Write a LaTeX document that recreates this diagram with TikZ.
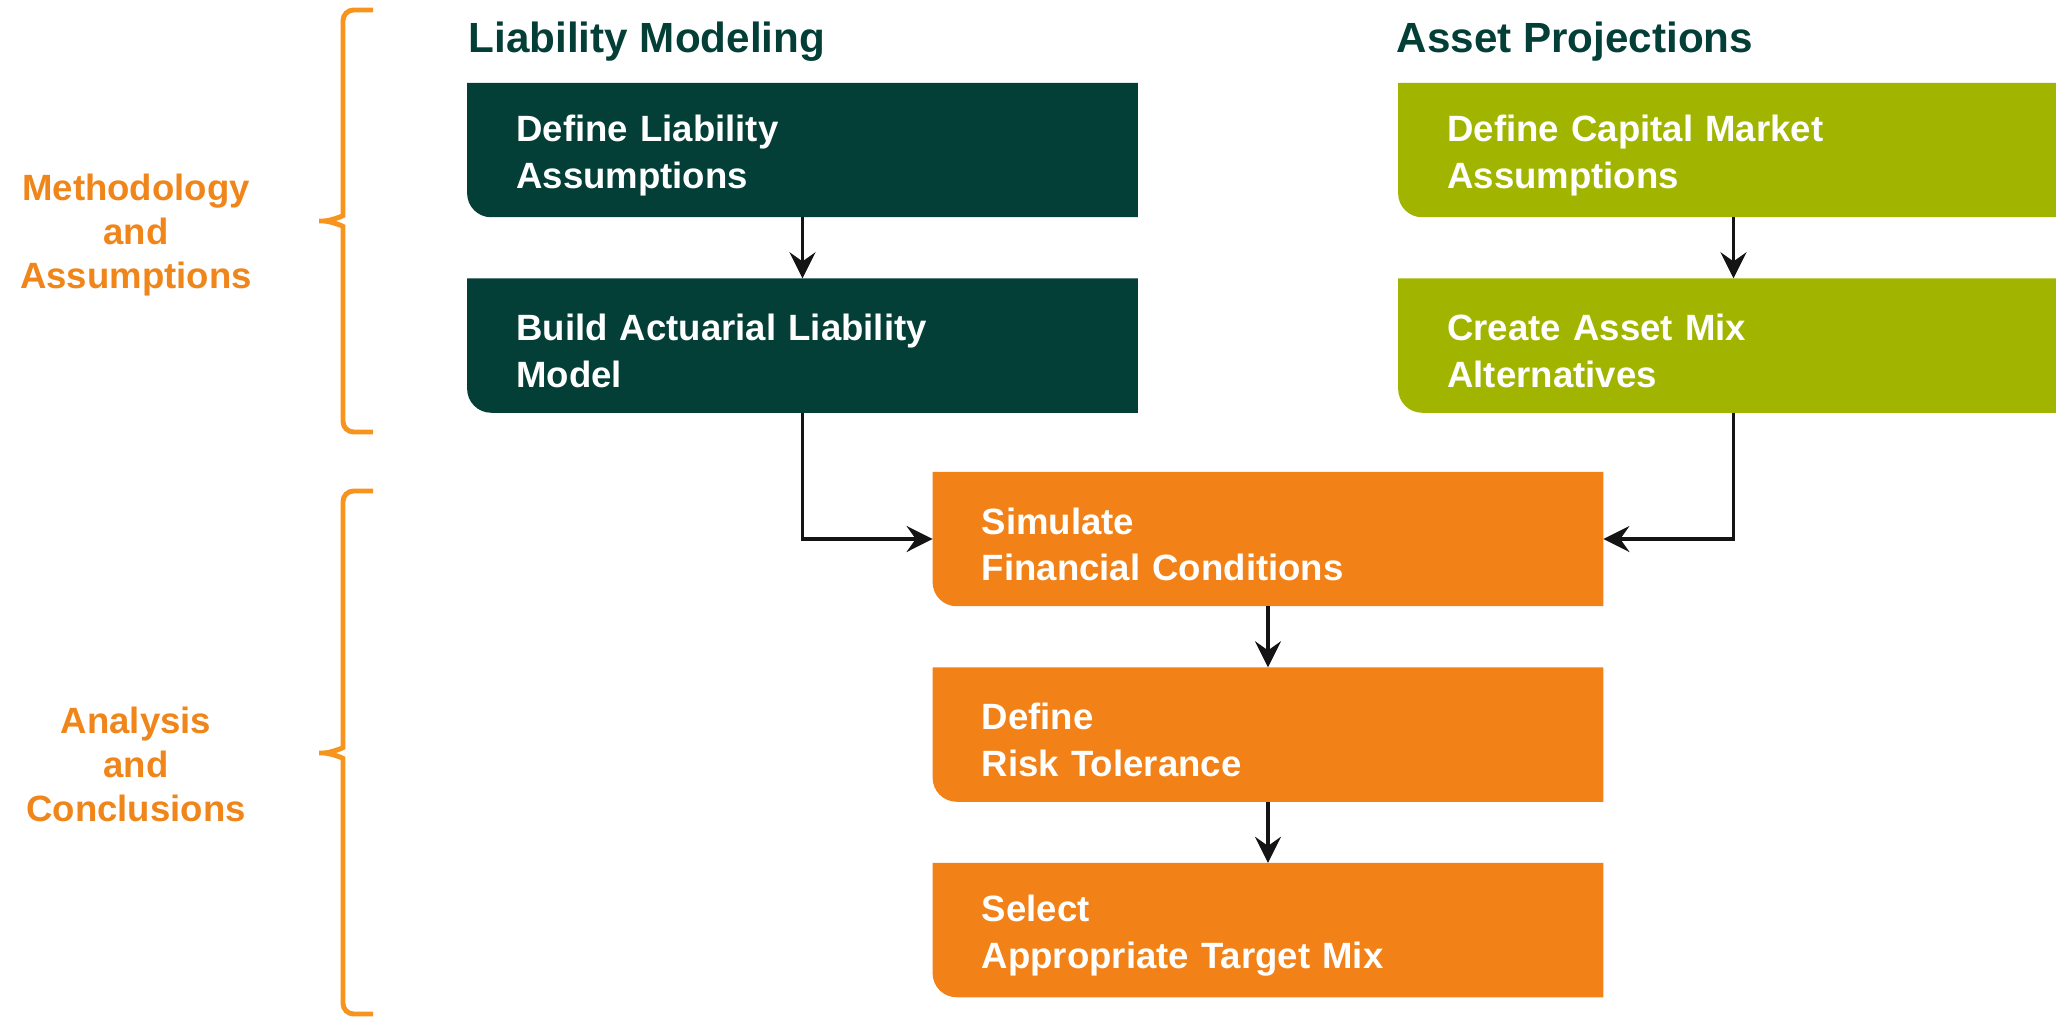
\documentclass[tikz,border=0pt]{standalone}
\usepackage{fontspec}
\setmainfont{Liberation Sans}
\usepackage{tikz}
\usetikzlibrary{arrows.meta}
\usetikzlibrary{positioning}
\usetikzlibrary{backgrounds}

\definecolor{liabgreen}{HTML}{033F37}
\definecolor{assetgreen}{HTML}{A1B500}
\definecolor{steporange}{HTML}{F28118}
\definecolor{labelorange}{HTML}{F0851A}
\definecolor{braceorange}{HTML}{F7941D}

\tikzset{
	stepbox/.style={text=white, font=\bfseries\fontsize{10.4}{13.3}\selectfont,
		minimum width=6.69cm, minimum height=1.33cm, text width=5.72cm,
		inner xsep=0.485cm, inner ysep=0pt, align=left,
		execute at begin node={\rule{0pt}{10.6pt}}},
	flowarrow/.style={-{Stealth[length=7.4pt,width=7.4pt,inset=2.6pt]}, line width=1pt, black!92},
	sidelabel/.style={text=labelorange, font=\bfseries\fontsize{10.4}{12.5}\selectfont, align=center},
	colhead/.style={text=liabgreen, font=\bfseries\fontsize{12}{14}\selectfont, anchor=base west, inner sep=0pt},
	bracestroke/.style={braceorange, line width=1.4pt, rounded corners=3pt}
}

\begin{document}
\begin{tikzpicture}[x=0.01cm,y=-0.01cm]
		
		\useasboundingbox (0,0) rectangle (2056,1018);
		
		\node (liabhead) at (468,53)[colhead] {Liability Modeling};
		\node (assethead) at (1396,53)[colhead] {Asset Projections};
		
		\node (liab1) at (802.5,150)[stepbox] {Define Liability\\Assumptions};
		\node (liab2) [stepbox, below=0.61cm of liab1] {Build Actuarial Liability\\Model};
		
		\node (asset1) at (1733.5,150)[stepbox] {Define Capital Market\\Assumptions};
		\node (asset2) [stepbox, below=0.61cm of asset1] {Create Asset Mix\\Alternatives};
		
		\node (sim) at (1268,539)[stepbox] {Simulate\\Financial Conditions};
		\node (risk) [stepbox, below=0.61cm of sim] {Define\\Risk Tolerance};
		\node (mix) [stepbox, below=0.61cm of risk] {Select\\Appropriate Target Mix};
		
		\begin{scope}[on background layer]
			\foreach \n/\c in {liab1/liabgreen, liab2/liabgreen, asset1/assetgreen, asset2/assetgreen,
				sim/steporange, risk/steporange, mix/steporange}
			\fill[\c] (\n.north west) -- (\n.north east) -- (\n.south east)
				-- ([xshift=0.24cm]\n.south west) arc[start angle=270, end angle=180, radius=0.24cm] -- cycle;
		\end{scope}
		
		\draw[flowarrow] (liab1) -- (liab2);
		\draw[flowarrow] (asset1) -- (asset2);
		\draw[flowarrow] (liab2.south) |- (sim.west);
		\draw[flowarrow] (asset2.south) |- (sim.east);
		\draw[flowarrow] (sim) -- (risk);
		\draw[flowarrow] (risk) -- (mix);
		
		\foreach \top/\tip/\bot in {10/221/432, 491/753/1014}
		\draw[bracestroke] (373,\top) -- (343,\top) -- (343,\tip-16)
			.. controls (343,\tip-5) and (330,\tip) .. (313,\tip)
			.. controls (330,\tip) and (343,\tip+5) .. (343,\tip+16) -- (343,\bot) -- (373,\bot);
		
		\node (method) at (136,235)[sidelabel] {Methodology\\and\\Assumptions};
		\node (analysis) at (136,764)[sidelabel] {Analysis\\and\\Conclusions};
		
	\end{tikzpicture}
\end{document}
